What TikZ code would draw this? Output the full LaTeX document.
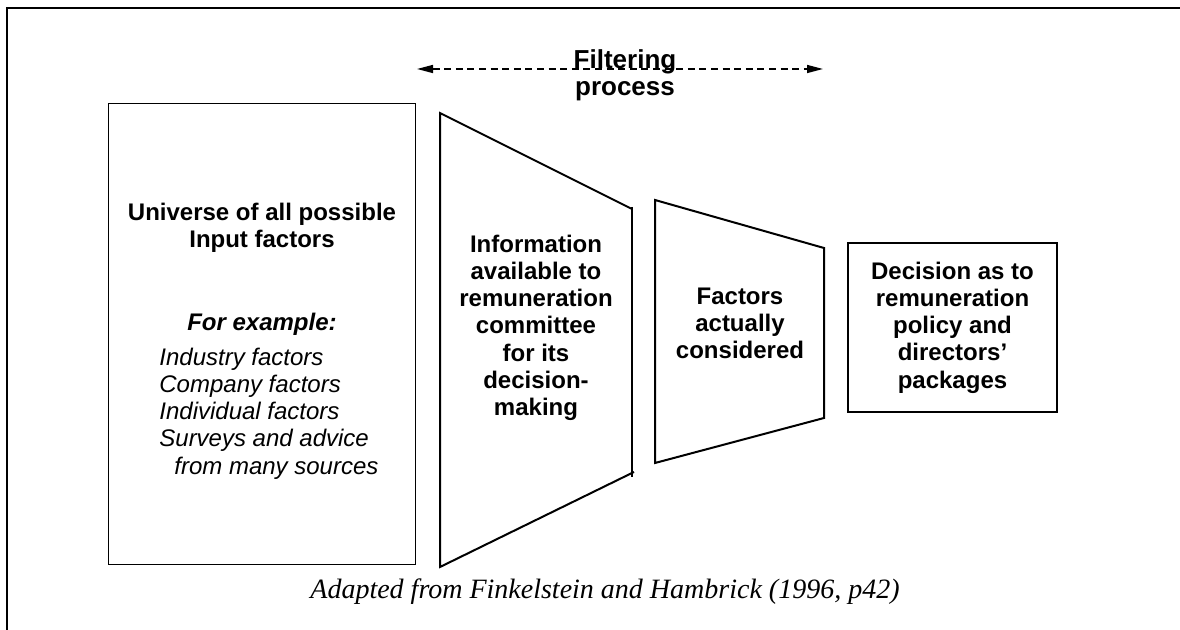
\documentclass[tikz,border=0pt]{standalone}
\usepackage{fontspec}
\setmainfont{Liberation Serif}
\setsansfont{Liberation Sans}
\usetikzlibrary{arrows.meta, positioning}
\tikzset{
	x=0.5pt, y=-0.5pt, % una unidad por pixel, y hacia abajo
	>={Triangle[length=8pt, width=4pt]}, % puntas rellenas
	marco/.style={line width=1pt}, % borde exterior
	caja/.style={draw, line width=0.5pt, inner sep=0pt}, % cajas rectangulares
	embudo/.style={line width=1pt, line join=miter}, % etapas del filtro
	texto/.style={font=\sffamily\bfseries\fontsize{12}{13.6}\selectfont, align=center, inner sep=0pt},
	ejem/.style={font=\sffamily\bfseries\itshape\fontsize{12}{13.6}\selectfont, inner sep=0pt},
	lista/.style={font=\sffamily\itshape\fontsize{12}{13.6}\selectfont, align=left, inner sep=0pt},
	fuente/.style={font=\itshape\fontsize{14}{16}\selectfont, inner sep=0pt}
}

\begin{document}
\begin{tikzpicture}
	\useasboundingbox (0,0) rectangle (1180,630);
	\draw[marco] (7,630) -- (7,8) -- (1180,8);
	% universo de factores
	\node[caja, minimum width=153.5pt, minimum height=230.5pt] (univ) at (261.5,334.5) {};
	\node[texto, anchor=north] (univt) at (262,202.5) {Universe of all possible\\Input factors};
	\node[ejem, anchor=north] (ej) at (262,313) {For example:};
	\node[lista, anchor=north west] (list) at (159,347.5) {Industry factors\\Company factors\\Individual factors\\Surveys and advice\\\hspace*{7.5pt}from many sources};
	% etapas del filtro
	\draw[embudo] (632,209) -- (440,113) -- (440,567) -- (634,472);
	\draw[embudo] (632,207) -- (632,477);
	\node[texto, anchor=north] (info) at (536,234.5) {Information\\available to\\remuneration\\committee\\for its\\decision-\\making};
	\draw[embudo] (655,200) -- (824,248) -- (824,418) -- (655,463) -- cycle;
	\node[texto, anchor=north] (fact) at (740,287.5) {Factors\\actually\\considered};
	\node[caja, texto, line width=1pt, minimum width=104.5pt, minimum height=84.5pt] (dec) at (952.5,327.5) {Decision as to\\remuneration\\policy and\\directors’\\packages};
	% flecha del proceso
	\coordinate (fi) at (417,69);
	\coordinate (ff) at (823,69);
	\draw[<->, line width=0.75pt, dash pattern=on 3.5pt off 2.3pt] (fi) -- (ff);
	\node[texto, font=\sffamily\bfseries\fontsize{13}{13.5}\selectfont, anchor=north] (filt) at (625,49) {Filtering\\process};
	\node[fuente, anchor=base west] (src) at (310,599) {Adapted from Finkelstein and Hambrick (1996, p42)};
\end{tikzpicture}
\end{document}
